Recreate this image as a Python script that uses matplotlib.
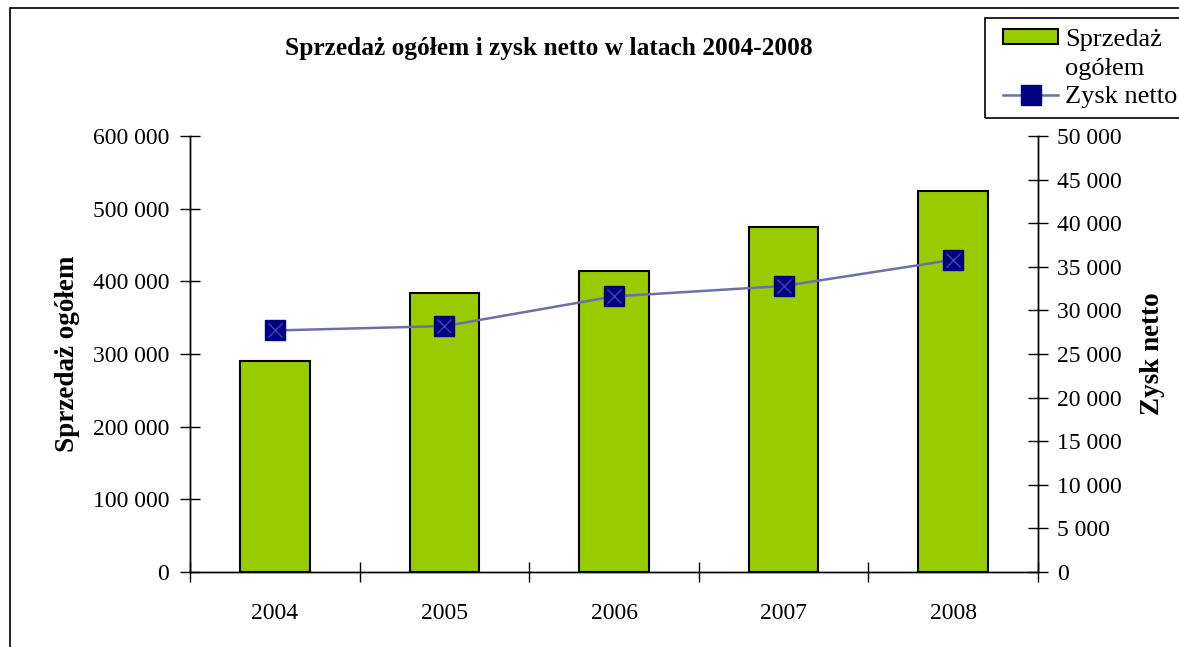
import numpy as np
import matplotlib.pyplot as plt
from matplotlib.ticker import FuncFormatter, FixedLocator
from matplotlib.patches import Rectangle
from matplotlib.lines import Line2D

plt.rcParams['font.family'] = ['Liberation Serif', 'DejaVu Serif']

# data
years = ['2004', '2005', '2006', '2007', '2008']
sales = [290000, 384000, 414000, 475000, 524000]
profit = [27700, 28200, 31600, 32800, 35800]

def space_fmt(v, pos):
    return f'{int(round(v)):,}'.replace(',', ' ')

fs = 17
W, H = 1179, 647

fig = plt.figure(figsize=(W / 100, H / 100), dpi=100)
ax = fig.add_axes([190 / W, 1 - 572 / H, 848 / W, 436 / H])
ax2 = ax.twinx()

x = np.arange(1, len(years) + 1)
bars = ax.bar(x, sales, width=0.41, color='#99CC00', edgecolor='black', linewidth=1.5, zorder=2)
ax2.plot(x, profit, color='#6F6FA8', linewidth=1.8, marker='s', markersize=14,
         markerfacecolor='#000080', markeredgecolor='#000080', zorder=3)
ax2.plot(x, profit, linestyle='none', marker='x', markersize=10, markeredgewidth=1.0,
         color='#4040B0', zorder=4)

ax.set_xlim(0.5, len(years) + 0.5)
ax.set_ylim(0, 600000)
ax2.set_ylim(0, 50000)
ax.set_yticks(np.arange(0, 600001, 100000))
ax2.set_yticks(np.arange(0, 50001, 5000))
ax.yaxis.set_major_formatter(FuncFormatter(space_fmt))
ax2.yaxis.set_major_formatter(FuncFormatter(space_fmt))

# category boundaries get the tick marks, centers get the labels
ax.xaxis.set_major_locator(FixedLocator(np.arange(0.5, len(years) + 1, 1.0)))
ax.set_xticklabels([])
ax.set_xticks(x, minor=True)
ax.set_xticklabels(years, minor=True)
ax.tick_params(axis='x', which='major', direction='inout', length=14, width=1)
ax.tick_params(axis='x', which='minor', length=0, pad=22, labelsize=fs)
ax.tick_params(axis='y', direction='inout', length=14, width=1, pad=8, labelsize=fs)
ax2.tick_params(axis='y', direction='inout', length=14, width=1, pad=7, labelsize=fs)

for a in (ax, ax2):
    a.spines['top'].set_visible(False)
    for s in ('left', 'right', 'bottom'):
        a.spines[s].set_linewidth(1)

ax.set_ylabel('Sprzedaż ogółem', fontsize=19.5, fontweight='bold', labelpad=9)
ax2.set_ylabel('Zysk netto', fontsize=19.5, fontweight='bold', labelpad=13)

fig.text(549 / W, 1 - 48 / H, 'Sprzedaż ogółem i zysk netto w latach 2004-2008',
         ha='center', va='center', fontsize=18.3, fontweight='bold')

# outer chart frame
fig.patches.append(Rectangle((10 / W, -0.1), 1.2, 1 - 8 / H + 0.1,
                             transform=fig.transFigure, fill=False,
                             edgecolor='black', linewidth=1.2))

# legend box runs off the right edge in the reference, so draw its frame separately
fig.patches.append(Rectangle((985 / W, 1 - 118 / H), 0.2, 100 / H,
                             transform=fig.transFigure, fill=False,
                             edgecolor='black', linewidth=1.2))
blank = Rectangle((0, 0), 1, 1, visible=False)
line_h = Line2D([], [], color='#6F6FA8', linewidth=1.8, marker='s', markersize=14,
                markerfacecolor='#000080', markeredgecolor='#000080')
leg = fig.legend([bars, blank, line_h], ['Sprzedaż', 'ogółem', 'Zysk netto'],
                 loc='upper left', bbox_to_anchor=(1003 / W, 1 - 29 / H),
                 fontsize=19, frameon=False, borderpad=0, labelspacing=0.25,
                 handlelength=2.1, handleheight=0.5, handletextpad=0.25,
                 borderaxespad=0)

fig.savefig('out.png', dpi=100)
